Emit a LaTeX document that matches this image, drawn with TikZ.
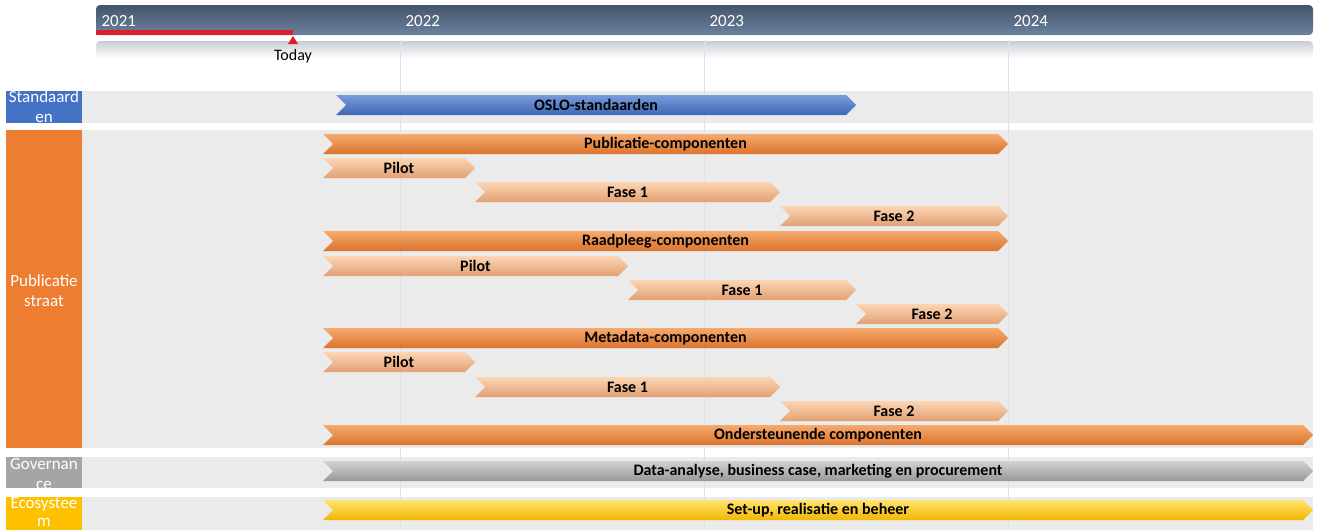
\documentclass[tikz,border=0pt]{standalone}
\usepackage{fontspec}
\setmainfont{Carlito}
\usetikzlibrary{shapes.symbols}

\begin{document}
\begin{tikzpicture}[x=1pt,y=-1pt,
	bar/.style={signal, signal from=west, signal to=east, draw=none, inner sep=0pt,
		minimum height=20pt, text=black, font=\bfseries\fontsize{16}{16}\selectfont},
	darkbar/.style={bar, top color=orlight, middle color=ormain, bottom color=ormain!92!black},
	lightbar/.style={bar, top color=palelight, middle color=palemain, bottom color=palemain!94!black},
	tag/.style={text=white, align=center, font=\fontsize{17}{20}\selectfont},
	year/.style={anchor=west, text=white, font=\fontsize{17}{17}\selectfont}]

	% Define colors
	\definecolor{hdrtop}{RGB}{68,84,106}
	\definecolor{hdrbot}{RGB}{108,130,160}
	\definecolor{hdrlight}{RGB}{200,205,213}
	\definecolor{band}{RGB}{235,235,235}
	\definecolor{gridline}{RGB}{218,226,236}
	\definecolor{todayred}{RGB}{220,30,40}
	\definecolor{stdblue}{RGB}{68,114,196}
	\definecolor{bluelight}{RGB}{120,155,220}
	\definecolor{ormain}{RGB}{237,125,49}
	\definecolor{orlight}{RGB}{246,170,110}
	\definecolor{palemain}{RGB}{240,170,122}
	\definecolor{palelight}{RGB}{252,214,180}
	\definecolor{govgray}{RGB}{165,165,165}
	\definecolor{graylight}{RGB}{210,210,210}
	\definecolor{ecogold}{RGB}{255,192,0}
	\definecolor{goldlight}{RGB}{255,228,110}

	\useasboundingbox (0,0) rectangle (1319,530);

	% Draw the time header
	\shade[top color=hdrtop, bottom color=hdrbot, rounded corners=4pt] (96,5) rectangle (1313,35);
	\shade[top color=hdrlight, bottom color=white, rounded corners=4pt] (96,41) rectangle (1313,58);
	\foreach \yr/\xp in {2021/96, 2022/400, 2023/704, 2024/1008} {
		\node[year] (y\yr) at (\xp+2,21) {\yr};
	}

	% Draw the today marker
	\fill[todayred] (96,30) rectangle (293,35);
	\fill[todayred] (293,36) -- (288,44) -- (298,44) -- cycle;
	\node[font=\fontsize{16}{16}\selectfont] (today) at (293,56) {Today};

	% Draw the lanes
	\foreach \ya/\yb in {91/123, 130/448, 457/488, 497/530} {
		\fill[band] (82,\ya) rectangle (1313,\yb);
	}

	% Draw the lane labels
	\fill[stdblue] (6,91) rectangle (82,123);
	\fill[ormain] (6,130) rectangle (82,448);
	\fill[govgray] (6,457) rectangle (82,488);
	\fill[ecogold] (6,497) rectangle (82,530);
	\begin{scope}
		\clip (6,91) rectangle (82,123);
		\node[tag] (lstd) at (44,107) {Standaard\\en};
	\end{scope}
	\node[tag] (lpub) at (44,291) {Publicatie\\straat};
	\begin{scope}
		\clip (6,457) rectangle (82,488);
		\node[tag] (lgov) at (44,474) {Governan\\ce};
	\end{scope}
	\node[tag, font=\fontsize{17}{18}\selectfont] (leco) at (44,512) {Ecosystee\\m};

	% Draw the year lines
	\foreach \xp in {400, 704, 1008} {
		\draw[gridline, line width=0.8pt] (\xp,40) -- (\xp,530);
	}

	% Draw the bars
	\node[bar, top color=bluelight, middle color=stdblue, bottom color=stdblue!92!black,
		minimum width=520pt] (oslo) at (596,105) {OSLO-standaarden};

	\foreach \nm/\xa/\xb/\yc/\txt in {pub/323/1008/144/Publicatie-componenten,
		raad/323/1008/241/Raadpleeg-componenten, meta/323/1008/338/Metadata-componenten,
		onder/323/1313/435/Ondersteunende componenten} {
		\node[darkbar, minimum width={(\xb-\xa)*1pt}] (\nm) at ({(\xa+\xb)/2},\yc) {\txt};
	}

	\foreach \nm/\xa/\xb/\yc/\txt in {pubp/323/475/168/Pilot, pubf1/475/780/192/Fase 1,
		pubf2/780/1008/216/Fase 2, raadp/323/628/266/Pilot, raadf1/628/856/290/Fase 1,
		raadf2/856/1008/314/Fase 2, metap/323/475/362/Pilot, metaf1/475/780/387/Fase 1,
		metaf2/780/1008/411/Fase 2} {
		\node[lightbar, minimum width={(\xb-\xa)*1pt}] (\nm) at ({(\xa+\xb)/2},\yc) {\txt};
	}

	\node[bar, top color=graylight, middle color=govgray, bottom color=govgray!92!black,
		minimum width=990pt] (gov) at (818,471) {Data-analyse, business case, marketing en procurement};
	\node[bar, top color=goldlight, middle color=ecogold, bottom color=ecogold!95!black,
		minimum width=990pt] (eco) at (818,510) {Set-up, realisatie en beheer};

\end{tikzpicture}
\end{document}
